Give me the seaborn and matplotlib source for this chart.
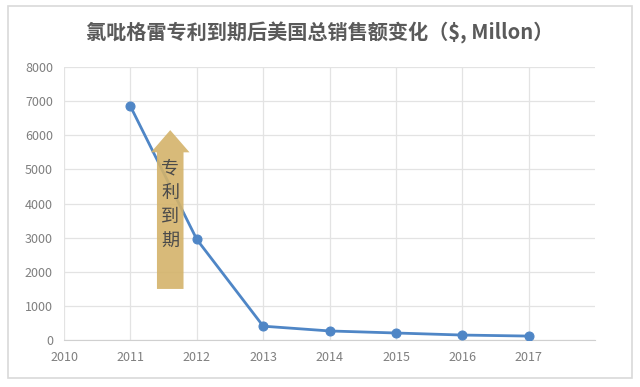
import seaborn as sns
import matplotlib.pyplot as plt
import pandas as pd
from matplotlib.patches import FancyArrow, Rectangle

### data
years = [2011, 2012, 2013, 2014, 2015, 2016, 2017]
sales = [6850, 2950, 410, 270, 210, 150, 120]
xticks = [2010, 2011, 2012, 2013, 2014, 2015, 2016, 2017]
yticks = [0, 1000, 2000, 3000, 4000, 5000, 6000, 7000, 8000]
title = '氯吡格雷专利到期后美国总销售额变化（$, Millon）'
note = '专\n利\n到\n期'

sns.set_style('white')
plt.rcParams['font.family'] = ['Noto Sans CJK SC', 'DejaVu Sans']

df = pd.DataFrame({'year': years, 'sales': sales})

fig = plt.figure(figsize=(6.4, 3.87), dpi=100)
ax = fig.add_axes([0.1, 0.121, 0.83, 0.706])

sns.lineplot(data=df, x='year', y='sales', ax=ax, color='#4f86c6', lw=2,
             marker='o', markersize=6.5, markeredgecolor='#4f86c6', zorder=3)

ax.set_xlim(2010, 2018)
ax.set_ylim(0, 8000)
ax.set_xticks(xticks)
ax.set_yticks(yticks)
ax.set_xlabel('')
ax.set_ylabel('')
ax.grid(True, color='#e3e3e3', lw=0.9)
for s in ['top', 'right', 'left']:
    ax.spines[s].set_visible(False)
ax.spines['bottom'].set_color('#d0d0d0')
ax.tick_params(length=0, labelsize=9, colors='#7f7f7f', pad=8)

### the "patent expiry" arrow
ax.add_patch(FancyArrow(2011.6, 1500, 0, 4650, width=0.4, head_width=0.58,
                        head_length=650, length_includes_head=True,
                        color='#d4b36a', alpha=0.9, zorder=4, lw=0))
ax.text(2011.6, 3950, note, ha='center', va='center', fontsize=13,
        color='#4a4a4a', linespacing=1.45, zorder=5)

fig.text(0.5, 0.915, title, ha='center', va='center', fontsize=14.5,
         fontweight='bold', color='#5a5a5a')

### light border round the whole chart
fig.patches.append(Rectangle((0.012, 0.022), 0.976, 0.963, transform=fig.transFigure,
                             fill=False, edgecolor='#d9d9d9', lw=1.2))

fig.savefig('out.png', dpi=100)
